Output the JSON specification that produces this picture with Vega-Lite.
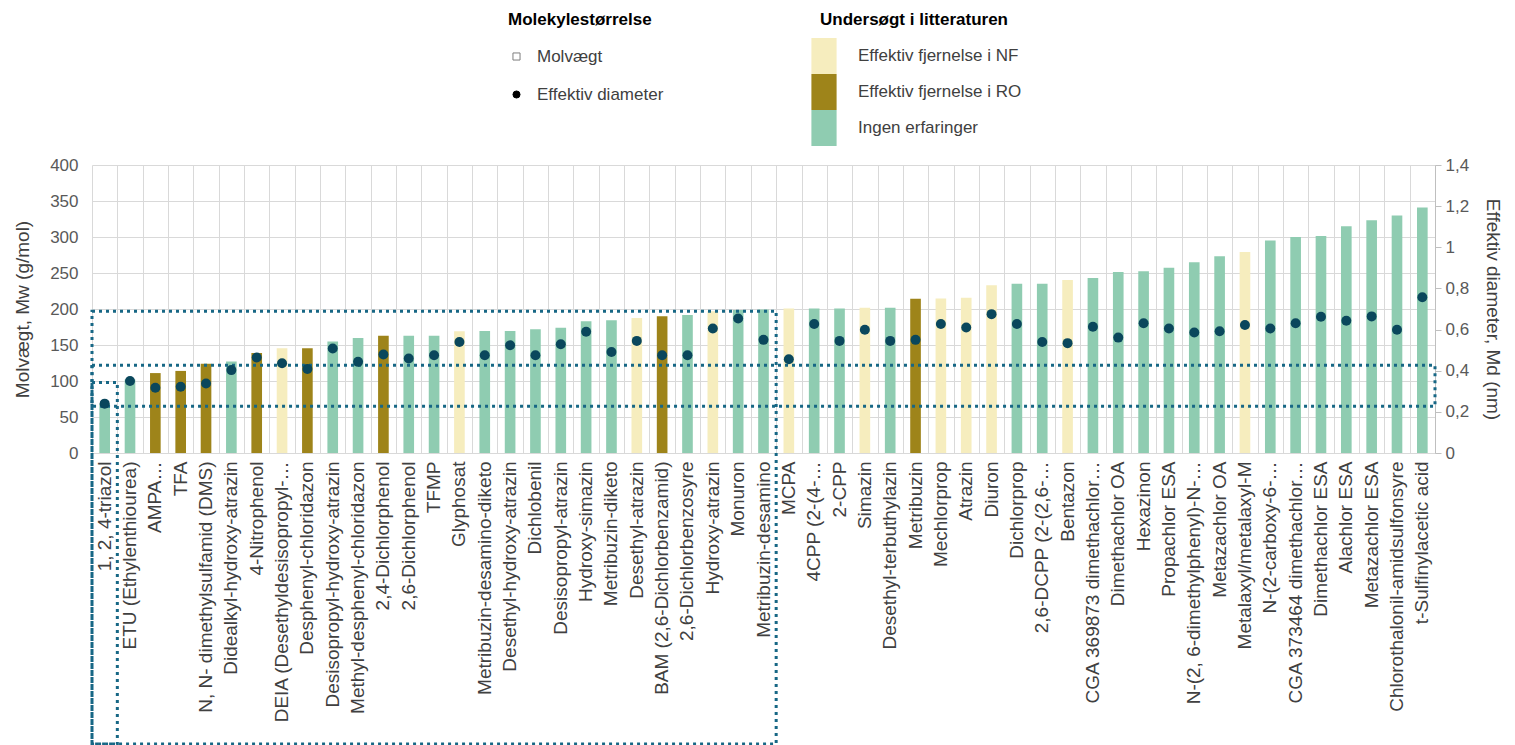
{
  "$schema": "https://vega.github.io/schema/vega-lite/v6.json",
  "width": 1343,
  "height": 288,
  "autosize": {"type": "none"},
  "padding": {"left": 92, "top": 165, "right": 80, "bottom": 292},
  "background": "white",
  "config": {"font": "Liberation Sans", "view": {"stroke": null}},
  "data": {"values": [
    {"navn": "1, 2, 4-triazol", "mw": 69, "d": 0.24, "kat": "Ingen erfaringer"},
    {"navn": "ETU (Ethylenthiourea)", "mw": 102, "d": 0.35, "kat": "Ingen erfaringer"},
    {"navn": "AMPA…", "mw": 111, "d": 0.317, "kat": "Effektiv fjernelse i RO"},
    {"navn": "TFA", "mw": 114, "d": 0.322, "kat": "Effektiv fjernelse i RO"},
    {"navn": "N, N- dimethylsulfamid (DMS)", "mw": 124, "d": 0.338, "kat": "Effektiv fjernelse i RO"},
    {"navn": "Didealkyl-hydroxy-atrazin", "mw": 127, "d": 0.403, "kat": "Ingen erfaringer"},
    {"navn": "4-Nitrophenol", "mw": 139, "d": 0.464, "kat": "Effektiv fjernelse i RO"},
    {"navn": "DEIA (Desethyldesisopropyl-…", "mw": 145.5, "d": 0.436, "kat": "Effektiv fjernelse i NF"},
    {"navn": "Desphenyl-chloridazon", "mw": 145.5, "d": 0.408, "kat": "Effektiv fjernelse i RO"},
    {"navn": "Desisopropyl-hydroxy-atrazin", "mw": 155, "d": 0.508, "kat": "Ingen erfaringer"},
    {"navn": "Methyl-desphenyl-chloridazon", "mw": 159.6, "d": 0.443, "kat": "Ingen erfaringer"},
    {"navn": "2,4-Dichlorphenol", "mw": 163, "d": 0.479, "kat": "Effektiv fjernelse i RO"},
    {"navn": "2,6-Dichlorphenol", "mw": 163, "d": 0.459, "kat": "Ingen erfaringer"},
    {"navn": "TFMP", "mw": 163, "d": 0.475, "kat": "Ingen erfaringer"},
    {"navn": "Glyphosat", "mw": 169, "d": 0.54, "kat": "Effektiv fjernelse i NF"},
    {"navn": "Metribuzin-desamino-diketo", "mw": 169.5, "d": 0.475, "kat": "Ingen erfaringer"},
    {"navn": "Desethyl-hydroxy-atrazin", "mw": 169.5, "d": 0.524, "kat": "Ingen erfaringer"},
    {"navn": "Dichlobenil", "mw": 172, "d": 0.475, "kat": "Ingen erfaringer"},
    {"navn": "Desisopropyl-atrazin", "mw": 174, "d": 0.529, "kat": "Ingen erfaringer"},
    {"navn": "Hydroxy-simazin", "mw": 183, "d": 0.589, "kat": "Ingen erfaringer"},
    {"navn": "Metribuzin-diketo", "mw": 184.5, "d": 0.491, "kat": "Ingen erfaringer"},
    {"navn": "Desethyl-atrazin", "mw": 187.6, "d": 0.545, "kat": "Effektiv fjernelse i NF"},
    {"navn": "BAM (2,6-Dichlorbenzamid)", "mw": 190, "d": 0.475, "kat": "Effektiv fjernelse i RO"},
    {"navn": "2,6-Dichlorbenzosyre", "mw": 191.5, "d": 0.475, "kat": "Ingen erfaringer"},
    {"navn": "Hydroxy-atrazin", "mw": 197, "d": 0.605, "kat": "Effektiv fjernelse i NF"},
    {"navn": "Monuron", "mw": 198.6, "d": 0.654, "kat": "Ingen erfaringer"},
    {"navn": "Metribuzin-desamino", "mw": 199.3, "d": 0.55, "kat": "Ingen erfaringer"},
    {"navn": "MCPA", "mw": 200.6, "d": 0.456, "kat": "Effektiv fjernelse i NF"},
    {"navn": "4CPP (2-(4-…", "mw": 200.6, "d": 0.627, "kat": "Ingen erfaringer"},
    {"navn": "2-CPP", "mw": 200.6, "d": 0.545, "kat": "Ingen erfaringer"},
    {"navn": "Simazin", "mw": 201.7, "d": 0.599, "kat": "Effektiv fjernelse i NF"},
    {"navn": "Desethyl-terbuthylazin", "mw": 201.7, "d": 0.545, "kat": "Ingen erfaringer"},
    {"navn": "Metribuzin", "mw": 214.3, "d": 0.55, "kat": "Effektiv fjernelse i RO"},
    {"navn": "Mechlorprop", "mw": 214.7, "d": 0.627, "kat": "Effektiv fjernelse i NF"},
    {"navn": "Atrazin", "mw": 215.7, "d": 0.61, "kat": "Effektiv fjernelse i NF"},
    {"navn": "Diuron", "mw": 233.1, "d": 0.675, "kat": "Effektiv fjernelse i NF"},
    {"navn": "Dichlorprop", "mw": 235, "d": 0.627, "kat": "Ingen erfaringer"},
    {"navn": "2,6-DCPP (2-(2,6-…", "mw": 235, "d": 0.54, "kat": "Ingen erfaringer"},
    {"navn": "Bentazon", "mw": 240.3, "d": 0.534, "kat": "Effektiv fjernelse i NF"},
    {"navn": "CGA 369873 dimethachlor…", "mw": 243, "d": 0.614, "kat": "Ingen erfaringer"},
    {"navn": "Dimethachlor OA", "mw": 251.3, "d": 0.561, "kat": "Ingen erfaringer"},
    {"navn": "Hexazinon", "mw": 252.3, "d": 0.631, "kat": "Ingen erfaringer"},
    {"navn": "Propachlor ESA", "mw": 257.3, "d": 0.605, "kat": "Ingen erfaringer"},
    {"navn": "N-(2, 6-dimethylphenyl)-N-…", "mw": 265, "d": 0.586, "kat": "Ingen erfaringer"},
    {"navn": "Metazachlor OA", "mw": 273.3, "d": 0.592, "kat": "Ingen erfaringer"},
    {"navn": "Metalaxyl/metalaxyl-M", "mw": 279.3, "d": 0.622, "kat": "Effektiv fjernelse i NF"},
    {"navn": "N-(2-carboxy-6-…", "mw": 295, "d": 0.605, "kat": "Ingen erfaringer"},
    {"navn": "CGA 373464 dimethachlor…", "mw": 300, "d": 0.631, "kat": "Ingen erfaringer"},
    {"navn": "Dimethachlor ESA", "mw": 301.4, "d": 0.662, "kat": "Ingen erfaringer"},
    {"navn": "Alachlor ESA", "mw": 315, "d": 0.643, "kat": "Ingen erfaringer"},
    {"navn": "Metazachlor ESA", "mw": 323.4, "d": 0.664, "kat": "Ingen erfaringer"},
    {"navn": "Chlorothalonil-amidsulfonsyre", "mw": 330, "d": 0.599, "kat": "Ingen erfaringer"},
    {"navn": "t-Sulfinylacetic acid", "mw": 341, "d": 0.757, "kat": "Ingen erfaringer"}
  ]},
  "layer": [
    {
      "mark": {"type": "bar", "width": {"band": 0.42}},
      "encoding": {
        "x": {"field": "navn", "type": "nominal", "sort": null,
          "scale": {"paddingInner": 0, "paddingOuter": 0},
          "axis": {"title": null, "labelAngle": -90, "labelFontSize": 19, "labelColor": "#404040", "labelLimit": 0, "ticks": false, "domain": false, "grid": false, "labelPadding": 8}},
        "y": {"field": "mw", "type": "quantitative",
          "scale": {"domain": [0, 400], "nice": false},
          "axis": {"title": "Molvægt, Mw (g/mol)", "values": [0, 50, 100, 150, 200, 250, 300, 350, 400], "domain": false, "ticks": false, "grid": true, "gridColor": "#D9D9D9", "labelFontSize": 17, "labelColor": "#595959", "labelPadding": 14, "titleFontSize": 19, "titleFontWeight": "normal", "titleColor": "#404040", "titlePadding": 17}},
        "fill": {"field": "kat", "type": "nominal",
          "scale": {"domain": ["Effektiv fjernelse i NF", "Effektiv fjernelse i RO", "Ingen erfaringer"], "range": ["#F6EDBE", "#9E841A", "#8FCCB1"]},
          "legend": {"title": "Undersøgt i litteraturen", "orient": "none", "legendX": 714, "legendY": -153, "padding": 0,
            "titleFontSize": 17, "titleFontWeight": "bold", "titleColor": "#000000", "titlePadding": 9, "titleAnchor": "middle", "titleLimit": 0,
            "labelFontSize": 17, "labelColor": "#404040", "labelOffset": 16, "labelLimit": 0,
            "symbolType": "M-0.7,-1H0.7V1H-0.7Z", "symbolSize": 1296, "symbolStrokeWidth": 0, "rowPadding": 0}}
      }
    },
    {
      "data": {"values": [
        {"x0": 0, "x1": 27, "y0": -404, "y1": 197},
        {"x0": 0, "x1": 1, "y0": -404, "y1": 98},
        {"x0": 0, "x1": 53, "y0": 65, "y1": 122}
      ]},
      "mark": {"type": "rect", "filled": false, "stroke": "#176785", "strokeWidth": 3, "strokeDash": [3, 4]},
      "encoding": {
        "x": {"field": "x0", "type": "quantitative",
          "scale": {"domain": [0, 53], "nice": false, "zero": false},
          "axis": {"orient": "top", "values": [0,1,2,3,4,5,6,7,8,9,10,11,12,13,14,15,16,17,18,19,20,21,22,23,24,25,26,27,28,29,30,31,32,33,34,35,36,37,38,39,40,41,42,43,44,45,46,47,48,49,50,51,52,53], "grid": true, "gridColor": "#D9D9D9", "labels": false, "ticks": false, "domain": false, "title": null}},
        "x2": {"field": "x1"},
        "y": {"field": "y1", "type": "quantitative", "scale": {"domain": [0, 400], "nice": false}, "axis": null},
        "y2": {"field": "y0"}
      }
    },
    {
      "mark": {"type": "point", "filled": true, "size": 100, "color": "#0A475C", "opacity": 1},
      "encoding": {
        "x": {"field": "navn", "type": "nominal", "sort": null, "scale": {"paddingInner": 0, "paddingOuter": 0}, "axis": null},
        "y": {"field": "d", "type": "quantitative",
          "scale": {"domain": [0, 1.4], "nice": false},
          "axis": {"orient": "right", "title": "Effektiv diameter, Md (nm)", "values": [0, 0.2, 0.4, 0.6, 0.8, 1, 1.2, 1.4],
            "labelExpr": "replace(format(datum.value, '.1~f'), '.', ',')",
            "grid": false, "domain": true, "domainColor": "#BFBFBF", "ticks": true, "tickColor": "#BFBFBF", "tickSize": 6,
            "labelFontSize": 17, "labelColor": "#595959", "labelPadding": 4,
            "titleFontSize": 19, "titleFontWeight": "normal", "titleColor": "#404040", "titlePadding": 14}}
      }
    },
    {
      "data": {"values": [{"serie": "Molvægt"}, {"serie": "Effektiv diameter"}]},
      "mark": {"type": "point", "opacity": 0, "filled": true},
      "encoding": {
        "shape": {"field": "serie", "type": "nominal",
          "scale": {"domain": ["Molvægt", "Effektiv diameter"], "range": ["square", "circle"]},
          "legend": {"title": "Molekylestørrelse", "orient": "none", "legendX": 416, "legendY": -153, "padding": 0,
            "titleFontSize": 17, "titleFontWeight": "bold", "titleColor": "#000000", "titlePadding": 19, "titleLimit": 0,
            "labelFontSize": 17, "labelColor": "#404040", "labelOffset": 12, "rowPadding": 20, "labelLimit": 0,
            "symbolSize": 50, "symbolOpacity": 1, "symbolStrokeWidth": 1}},
        "fill": {"field": "serie", "type": "nominal",
          "scale": {"domain": ["Molvægt", "Effektiv diameter"], "range": ["#ffffff", "#000000"]},
          "legend": {"title": "Molekylestørrelse", "orient": "none", "legendX": 416, "legendY": -153, "padding": 0,
            "titleFontSize": 17, "titleFontWeight": "bold", "titleColor": "#000000", "titlePadding": 19, "titleLimit": 0,
            "labelFontSize": 17, "labelColor": "#404040", "labelOffset": 12, "rowPadding": 20, "labelLimit": 0,
            "symbolSize": 50, "symbolOpacity": 1, "symbolStrokeWidth": 1}},
        "stroke": {"field": "serie", "type": "nominal",
          "scale": {"domain": ["Molvægt", "Effektiv diameter"], "range": ["#7F7F7F", "#000000"]},
          "legend": {"title": "Molekylestørrelse", "orient": "none", "legendX": 416, "legendY": -153, "padding": 0,
            "titleFontSize": 17, "titleFontWeight": "bold", "titleColor": "#000000", "titlePadding": 19, "titleLimit": 0,
            "labelFontSize": 17, "labelColor": "#404040", "labelOffset": 12, "rowPadding": 20, "labelLimit": 0,
            "symbolSize": 50, "symbolOpacity": 1, "symbolStrokeWidth": 1}}
      }
    }
  ],
  "resolve": {"scale": {"x": "independent", "y": "independent", "fill": "independent", "stroke": "independent", "shape": "independent"}}
}
